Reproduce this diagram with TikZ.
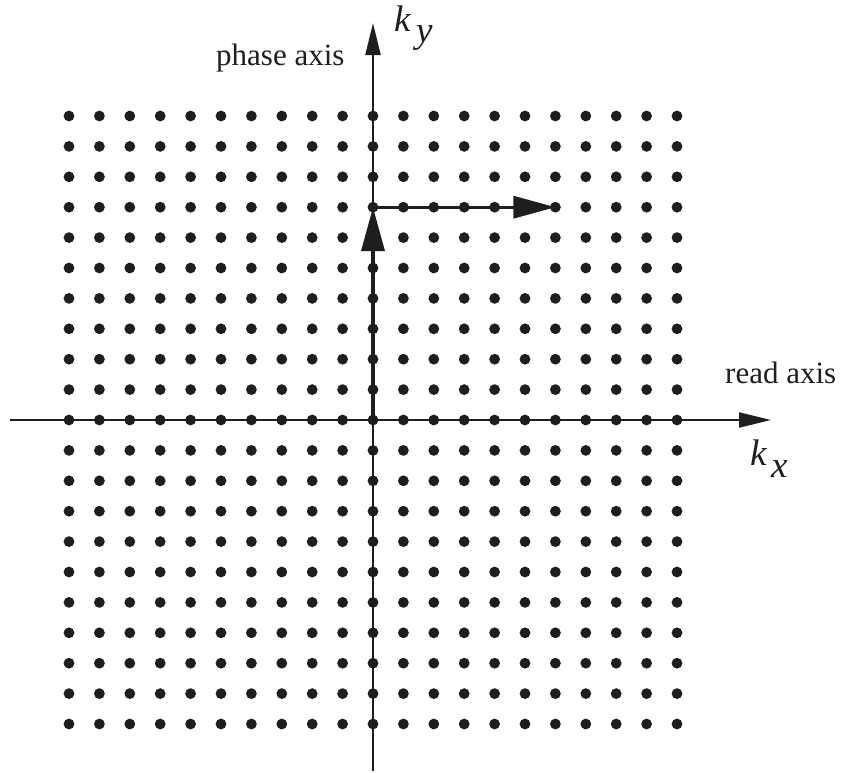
\documentclass[tikz,border=0pt]{standalone}
\usepackage{fontspec}
\setmainfont{Liberation Serif}
\usetikzlibrary{arrows.meta}
\definecolor{ink}{HTML}{1E1E1E}
\tikzset{
  kdot/.style={fill=ink},
  axisline/.style={draw=ink, line width=2.3pt, -{Triangle[length=32pt,width=15pt]}},
  boldarrow/.style={draw=ink, line width=3.8pt, -{Triangle[length=44pt,width=23pt]}},
  axlabel/.style={inner sep=0pt, anchor=base west, font=\fontsize{31}{36}\selectfont, text=ink},
  klabel/.style={inner sep=0pt, anchor=base west, font=\fontsize{37}{42}\selectfont\itshape, text=ink}
}
\begin{document}
\begin{tikzpicture}[x=1pt,y=1pt]
\useasboundingbox (0,0) rectangle (844,-772);
% grid of k-space samples
\foreach \i in {-10,...,10}{
  \foreach \j in {-10,...,10}{
    \fill[kdot] ({373+30.4*\i},{-420+30.4*\j}) circle (5.4);
  }
}
\coordinate (O) at (373,-420);
\coordinate (xl) at (10,-420);
\coordinate (xr) at (771,-420);
\coordinate (yb) at (373,-771);
\coordinate (yt) at (373,-23);
\coordinate (P) at (373,-207.2);
\coordinate (Q) at (555.4,-207.2);
% axes
\draw[axisline] (xl) -- (xr);
\draw[axisline] (yb) -- (yt);
% trajectory
\draw[boldarrow] (O) -- (P);
\draw[boldarrow, line width=3.4pt, -{Triangle[length=42pt,width=22pt]}] (P) -- (Q);
% labels
\node[axlabel] (phase) at (216,-65) {phase axis};
\node[axlabel] (read) at (725,-383) {read axis};
\node[klabel] (ky) at (394,-31) {k};
\node[klabel] (kysub) at (416,-42) {y};
\node[klabel] (kx) at (750,-465) {k};
\node[klabel] (kxsub) at (771,-477) {x};
\end{tikzpicture}
\end{document}
